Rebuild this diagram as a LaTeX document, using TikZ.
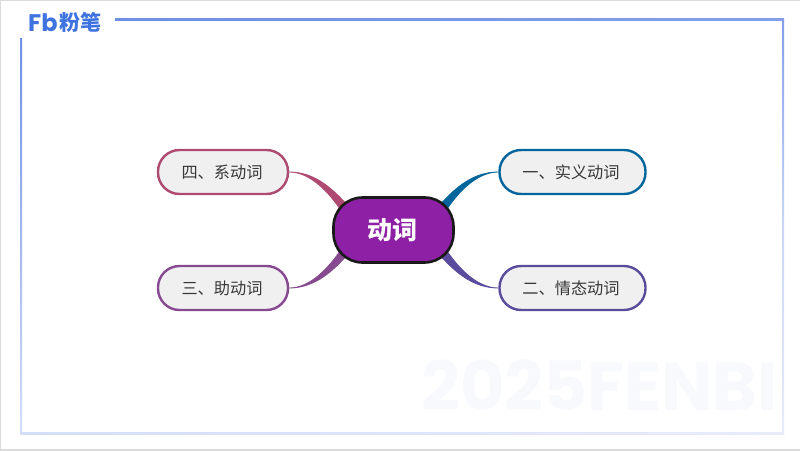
\documentclass[tikz,border=0pt]{standalone}
\usepackage{fontspec}
\setmainfont{Noto Sans CJK SC}
\newfontfamily\logofont{Poppins}
\usetikzlibrary{positioning, backgrounds}
\definecolor{framea}{HTML}{6F8FE6}
\definecolor{frameb}{HTML}{D3DEF8}
\definecolor{framec}{HTML}{E8ECF9}
\definecolor{logoblue}{HTML}{3F74E0}
\definecolor{hubfill}{HTML}{8E20A6}
\definecolor{leafa}{HTML}{02669C}
\definecolor{leafb}{HTML}{5B4B9C}
\definecolor{leafc}{HTML}{874A90}
\definecolor{leafd}{HTML}{AE4A72}
\tikzset{
  leaf/.style={draw=#1, line width=2.4, fill=black!6, rounded corners=21.5, minimum height=44, inner sep=0, font=\fontsize{16.2}{16}\selectfont, text=black!78},
  hub/.style={draw=black!90, line width=2.6, fill=hubfill, rounded corners=29, minimum width=120, minimum height=65, inner sep=0, font=\fontsize{25}{25}\selectfont\bfseries, text=white},
  branch/.style={draw=#1, fill=#1, line width=.8},
}
\begin{document}
\begin{tikzpicture}[x=1pt, y=-1pt]
    \useasboundingbox (0, 0) rectangle (800, 450);
    \draw[line width=2, black!14] (0, 0) -- (800, 0);
    \draw[line width=2, black!14] (0, 0) -- (0, 450);
    \draw[line width=3, black!14] (0, 450) -- (800, 450);

    % frame
    \shade[left color=framea, right color=framea!85!white] (115, 18.1) rectangle (784, 20);
    \shade[top color=framea!85!white, bottom color=framec, middle color=frameb!90!framea] (782, 20) rectangle (784, 434);
    \shade[top color=framea, bottom color=frameb] (20, 38) rectangle (22, 434);
    \shade[left color=frameb, right color=framec] (20, 432.2) rectangle (784, 434);

    % watermark
    \node[anchor=west, inner sep=0, text=framec!30!white, font=\fontsize{68}{68}\logofont\bfseries] (mark) at (421, 385) {2025FENBI};

    % logo
    \node[anchor=west, inner sep=0, text=logoblue, font=\fontsize{24}{24}\logofont\bfseries] (logo) at (28, 22.5) {Fb};
    \node[right=1.5 of logo, inner sep=0, text=logoblue, font=\fontsize{21}{21}\selectfont\bfseries] (brand) {粉笔};

    % topic nodes
    \node[hub] (verb) at (393.5, 230) {\hspace{-2pt}动词};
    \node[leaf=leafa, minimum width=146] (one) at (572.5, 172) {\hspace{-3pt}一、实义动词};
    \node[leaf=leafb, minimum width=146] (two) at (572.5, 288) {\hspace{-3pt}二、情态动词};
    \node[leaf=leafc, minimum width=130] (three) at (223, 288) {\hspace{-2pt}三、助动词};
    \node[leaf=leafd, minimum width=130] (four) at (223, 172) {\hspace{-2pt}四、系动词};

    % branches
    \coordinate (oa) at (439, 206);
    \coordinate (ob) at (445, 212);
    \coordinate (ta) at (445, 248);
    \coordinate (tb) at (439, 254);
    \coordinate (ra) at (342, 248);
    \coordinate (rb) at (348, 254);
    \coordinate (fa) at (342, 212);
    \coordinate (fb) at (348, 206);
    \begin{scope}[on background layer]
    \path[branch=leafa] (one.west) .. controls (476, 172) and (458, 184) .. (oa) -- (ob) .. controls (458, 192) and (477, 172) .. (one.west) -- cycle;
    \path[branch=leafb] (two.west) .. controls (476, 288) and (458, 276) .. (tb) -- (ta) .. controls (458, 268) and (477, 288) .. (two.west) -- cycle;
    \path[branch=leafc] (three.east) .. controls (311, 288) and (329, 276) .. (rb) -- (ra) .. controls (329, 268) and (310, 288) .. (three.east) -- cycle;
    \path[branch=leafd] (four.east) .. controls (311, 172) and (329, 184) .. (fb) -- (fa) .. controls (329, 192) and (310, 172) .. (four.east) -- cycle;
    \end{scope}
\end{tikzpicture}
\end{document}
